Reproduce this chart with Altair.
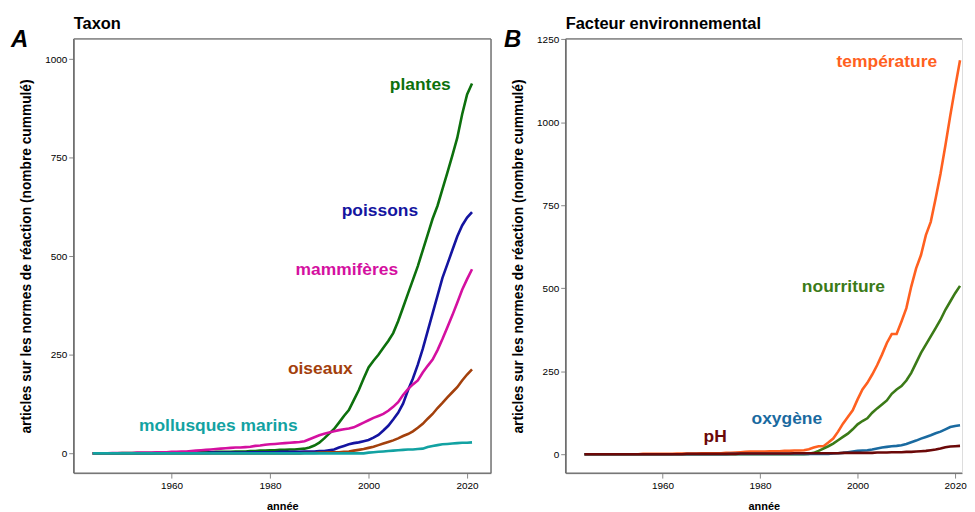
import altair as alt
import pandas as pd

FONT = "Liberation Sans"

years = list(range(1944, 2022))

# ---- Panel A: taxon ----
plantes = [0, 0, 0, 0, 0, 0, 1, 1, 1, 1,
           1, 1, 1, 1, 1, 2, 2, 2, 2, 2,
           3, 3, 3, 3, 3, 4, 4, 4, 4, 5,
           5, 5, 6, 6, 7, 7, 8, 8, 9, 9,
           10, 10, 11, 12, 15, 20, 27, 38, 50, 62,
           78, 95, 110, 135, 160, 190, 218, 235, 250, 268,
           285, 305, 335, 370, 405, 440, 475, 515, 555, 595,
           628, 670, 712, 755, 800, 860, 910, 938]
poissons = [0, 0, 0, 0, 0, 0, 0, 0, 0, 0,
            0, 0, 0, 1, 1, 1, 1, 1, 1, 1,
            1, 1, 1, 1, 2, 2, 2, 2, 2, 2,
            2, 2, 3, 3, 3, 3, 3, 3, 4, 4,
            4, 4, 4, 5, 5, 5, 6, 6, 8, 10,
            15, 19, 23, 26, 28, 31, 34, 40, 47, 58,
            70, 86, 103, 126, 160, 190, 225, 265, 310, 355,
            400, 445, 480, 515, 550, 578, 598, 612]
mammiferes = [0, 0, 0, 0, 1, 1, 1, 1, 1, 2,
              2, 2, 2, 3, 3, 3, 4, 4, 5, 5,
              6, 7, 8, 9, 10, 11, 12, 13, 14, 15,
              15, 16, 17, 19, 20, 22, 23, 24, 25, 26,
              27, 28, 29, 31, 36, 41, 46, 50, 53, 56,
              59, 61, 63, 66, 72, 78, 84, 90, 95, 100,
              108, 118, 130, 148, 163, 175, 185, 205, 222, 238,
              262, 290, 320, 350, 382, 415, 442, 467]
oiseaux = [0] * 40 + [0, 0, 0, 1, 1, 1, 2, 2, 3, 3,
                      3, 4, 5, 7, 9, 11, 14, 17, 21, 25,
                      29, 33, 38, 44, 49, 56, 65, 75, 88, 100,
                      115, 128, 142, 155, 168, 185, 200, 213]
mollusques = [0] * 56 + [2, 3, 4, 5, 6, 7, 8, 9, 10, 10,
                         11, 12, 16, 19, 21, 23, 24, 25, 26, 27, 27, 28]

taxa = ["plantes", "poissons", "mammifères", "oiseaux", "mollusques marins"]
taxa_values = [plantes, poissons, mammiferes, oiseaux, mollusques]
taxa_colors = ["#0d700d", "#1414a0", "#d410a0", "#a3400c", "#12a2a2"]
taxa_label_year = [2010.5, 2002.3, 1995.6, 1990.2, 1969.5]
taxa_label_value = [934, 614, 465, 215, 69]

# ---- Panel B: environmental factor ----
temperature = [0, 0, 0, 0, 0, 0, 0, 0, 0, 0,
               0, 0, 1, 1, 1, 1, 1, 1, 1, 2,
               2, 2, 2, 2, 3, 3, 3, 3, 3, 4,
               4, 5, 6, 7, 8, 8, 8, 8, 9, 9,
               9, 10, 10, 11, 11, 12, 15, 20, 24, 24,
               35, 47, 68, 92, 112, 132, 165, 195, 215, 240,
               268, 300, 335, 362, 362, 400, 440, 505, 560, 600,
               660, 700, 770, 845, 930, 1020, 1105, 1187]
nourriture = [0] * 46 + [1, 4, 10, 17,
                         24, 32, 42, 52, 62, 75, 90, 100, 108, 125,
                         138, 150, 162, 182, 195, 205, 222, 245, 275, 305,
                         330, 355, 380, 405, 435, 460, 485, 507]
oxygene = [0] * 30 + [1] * 21 + [2, 3, 4, 6, 8, 10, 11, 12, 14,
                                 17, 20, 22, 24, 25, 27, 31, 36, 41, 47,
                                 52, 57, 63, 68, 75, 82, 85, 87]
ph = [0] * 20 + [0, 1, 1, 1, 1, 1, 1, 1, 1, 1,
                 1, 1, 2, 2, 2, 2, 2, 2, 2, 2,
                 2, 2, 2, 3, 3, 3, 3, 3, 3, 3,
                 3, 3, 3, 4, 4, 4, 4, 4, 4, 4,
                 5, 5, 5, 6, 6, 6, 7, 7, 8, 9,
                 10, 12, 14, 17, 21, 23, 24, 25]

factors = ["température", "nourriture", "oxygène", "pH"]
factor_values = [temperature, nourriture, oxygene, ph]
factor_colors = ["#ff6020", "#3b7a17", "#1a6aa0", "#6b0808"]
factor_label_year = [2006.0, 1997.1, 1985.5, 1970.8]
factor_label_value = [1180, 505, 107, 52]

YTITLE = "articles sur les normes de réaction (nombre cummulé)"
H = 436
FRAME = "#6e6e6e"


def long_df(names, values):
    rows = []
    for i, (n, vals) in enumerate(zip(names, values)):
        for y, v in zip(years, vals):
            rows.append({"serie": n, "annee": y, "n": v, "k": i})
    return pd.DataFrame(rows)


def frame_rule(x, x2, y, y2, color=FRAME):
    return alt.Chart(pd.DataFrame({"f": [0]})).mark_rule(
        color=color, strokeWidth=1.4).encode(
        x=alt.value(x), x2=alt.value(x2), y=alt.value(y), y2=alt.value(y2))


def text_mark(txt, dx, dy, size, style="normal"):
    return alt.Chart(pd.DataFrame({"t": [txt]})).mark_text(
        font=FONT, fontWeight="bold", fontStyle=style, fontSize=size,
        align="left", baseline="alphabetic", color="black").encode(
        text="t:N", x=alt.value(dx), y=alt.value(dy))


def panel(names, values, colors, lyears, lvalues, ydomain, yticks, width,
          xmax, title, letter, letter_dx, right_border):
    df = long_df(names, values)
    labels = pd.DataFrame({"serie": names, "annee": lyears, "n": lvalues})
    xscale = alt.Scale(domain=[1940.15, xmax], nice=False, zero=False)
    yscale = alt.Scale(domain=ydomain, nice=False, zero=False)
    cscale = alt.Scale(domain=names, range=colors)
    x = alt.X("annee:Q", scale=xscale,
              axis=alt.Axis(values=[1960, 1980, 2000, 2020], format="d",
                            grid=False, title="année", titleY=37,
                            titleBaseline="alphabetic"))
    y = alt.Y("n:Q", scale=yscale,
              axis=alt.Axis(values=yticks, format="d", grid=False,
                            title=YTITLE, titleX=-40, titleFontSize=13.8))
    lines = alt.Chart(df).mark_line(strokeWidth=2.6, clip=True).encode(
        x=x, y=y,
        color=alt.Color("serie:N", scale=cscale, legend=None),
        order="annee:Q",
    )
    texts = alt.Chart(labels).mark_text(
        font=FONT, fontWeight="bold", fontSize=17.5, align="center",
        baseline="middle").encode(
        x=alt.X("annee:Q", scale=xscale),
        y=alt.Y("n:Q", scale=yscale),
        text="serie:N",
        color=alt.Color("serie:N", scale=cscale, legend=None),
    )
    layers = [lines, texts,
              text_mark(letter, letter_dx, 8, 24, "italic"),
              text_mark(title, 0, -10, 16.5),
              frame_rule(0, width, 0, 0),
              frame_rule(0, width, H, H),
              frame_rule(0, 0, 0, H)]
    if right_border:
        layers.append(frame_rule(width, width, 0, H))
    return alt.layer(*layers).properties(width=width, height=H)


pa = panel(taxa, taxa_values, taxa_colors, taxa_label_year, taxa_label_value,
           [-50, 1051], [0, 250, 500, 750, 1000], 419, 2024.85,
           "Taxon", "A", -63, True)
pb = panel(factors, factor_values, factor_colors, factor_label_year,
           factor_label_value, [-57, 1251], [0, 250, 500, 750, 1000, 1250],
           398, 2021.41, "Facteur environnemental", "B", -62, False)

chart = alt.hconcat(pa, pb, spacing=10).resolve_scale(
    color="independent", x="independent", y="independent"
).properties(
    padding={"left": 2, "top": 6, "right": 0, "bottom": 0}
).configure_view(
    stroke=None
).configure_axis(
    grid=False, domain=False, tickColor="#333333", tickSize=5, tickWidth=1.1,
    labelFont=FONT, labelFontSize=11, labelFontWeight="bold",
    labelColor="#1a1a1a", labelPadding=3,
    titleFont=FONT, titleFontSize=13.5, titleFontWeight="bold",
    titleColor="#1a1a1a"
).configure(background="white")

chart.save("out.html", embed_options={"renderer": "svg", "actions": False})
